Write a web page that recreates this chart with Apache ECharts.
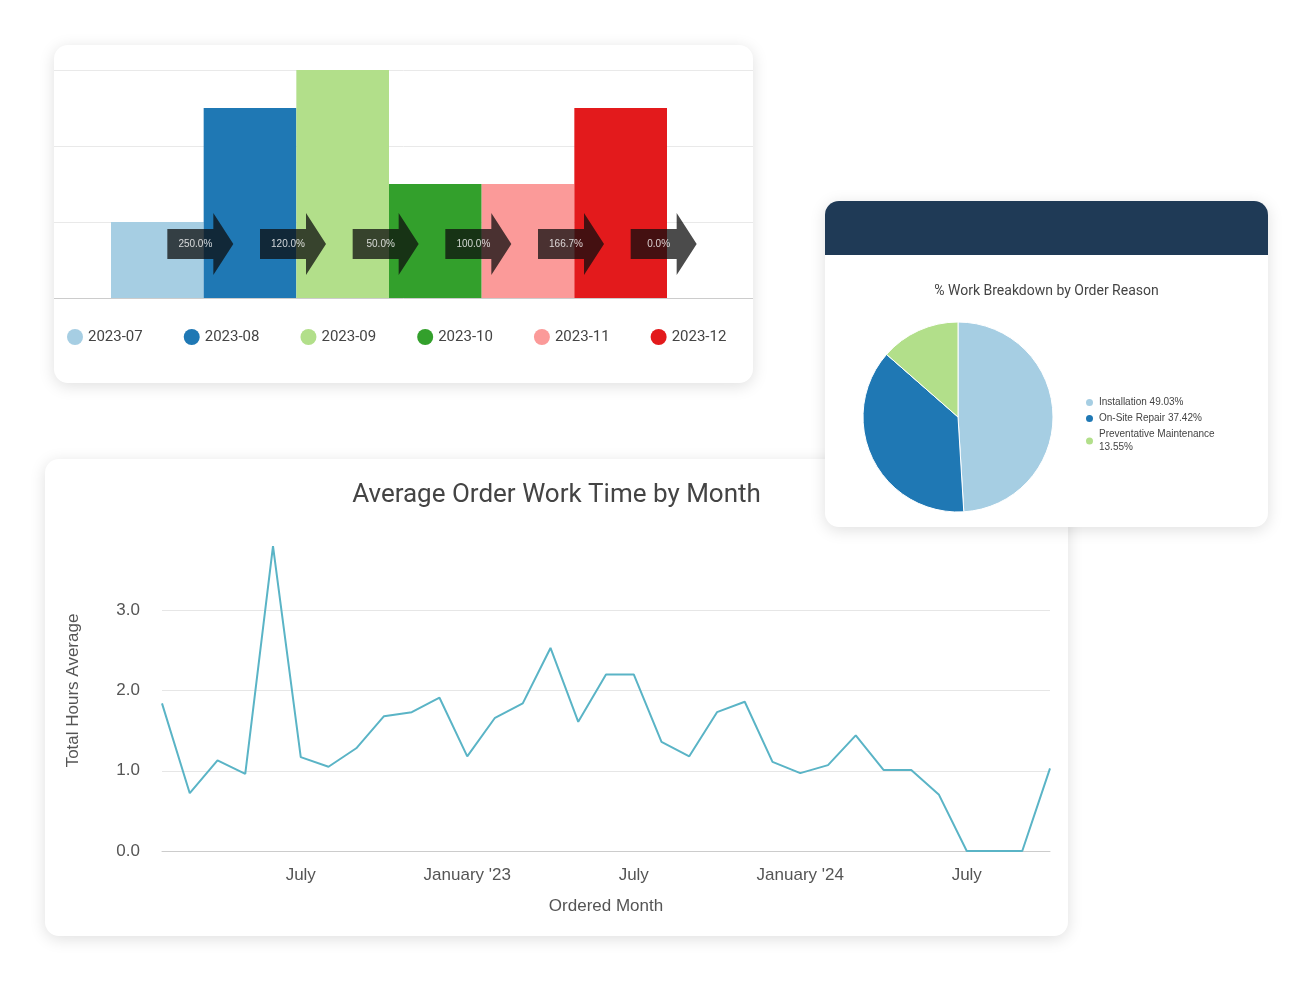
<!DOCTYPE html>
<html><head><meta charset="utf-8">
<script src="https://cdn.jsdelivr.net/npm/echarts@6/dist/echarts.min.js"></script>
<style>
body{margin:0;width:1314px;height:981px;background:#fff;position:relative;overflow:hidden;font-family:Roboto,sans-serif}
.card{position:absolute;background:#fff;border-radius:14px;box-shadow:0 3px 16px rgba(0,0,0,0.13);overflow:hidden}
</style></head><body>
<div class="card" id="c1" style="left:54px;top:45px;width:699px;height:338px;z-index:1"></div>
<div class="card" id="c3" style="left:45px;top:459px;width:1023px;height:477px;z-index:2"></div>
<div class="card" style="left:825px;top:201px;width:443px;height:326px;z-index:3">
  <div style="height:54px;background:#1f3a56"></div>
  <div id="c2" style="width:443px;height:272px"></div>
</div>
<script>
// ---- bar chart data ----
const barCats = ['2023-07','2023-08','2023-09','2023-10','2023-11','2023-12'];
const barVals = [2,5,6,3,3,5];
const barColors = ['#a6cee3','#1f78b4','#b2df8a','#33a02c','#fb9a99','#e31a1c'];
const extraNames = ['2024-05','2024-06'];
const extraColors = ['#f1c40f','#b15928'];
const changeLabels = ['250.0%','120.0%','50.0%','100.0%','166.7%','0.0%'];
// ---- pie data ----
const pieNames = ['Installation','On-Site Repair','Preventative Maintenance'];
const pieVals = [49.03,37.42,13.55];
const pieColors = ['#a6cee3','#1f78b4','#b2df8a'];
// ---- line data ----
const months = ['2022-02','2022-03','2022-04','2022-05','2022-06','2022-07','2022-08','2022-09','2022-10','2022-11','2022-12',
'2023-01','2023-02','2023-03','2023-04','2023-05','2023-06','2023-07','2023-08','2023-09','2023-10','2023-11','2023-12',
'2024-01','2024-02','2024-03','2024-04','2024-05','2024-06','2024-07','2024-08','2024-09','2024-10'];
const hours = [1.84,0.72,1.13,0.96,3.80,1.17,1.05,1.28,1.68,1.73,1.91,1.18,1.66,1.84,2.53,1.61,2.20,2.20,1.36,1.18,1.73,1.86,1.11,0.97,1.07,1.44,1.01,1.01,0.70,0,0,0,1.03];

const c1 = echarts.init(document.getElementById('c1'));
const series1 = barCats.map((n,i)=>({name:n,type:'bar',stack:'all',barWidth:'100%',xAxisIndex:0,yAxisIndex:0,
  itemStyle:{color:barColors[i]},data:barCats.map((c,j)=>j===i?barVals[i]:'-'),z:2}));
extraNames.forEach((n,i)=>series1.push({name:n,type:'bar',stack:'all',barWidth:'100%',xAxisIndex:0,yAxisIndex:0,
  itemStyle:{color:extraColors[i]},data:barCats.map(()=>'-')}));
series1.push({type:'scatter',name:'arrows',xAxisIndex:0,yAxisIndex:0,z:5,
  symbol:'path://M0,16 L46,16 L46,0 L66,31 L46,62 L46,46 L0,46 Z',symbolSize:[66,62],symbolOffset:[43,0],
  itemStyle:{color:'rgba(14,14,14,0.93)'},
  label:{show:true,position:'inside',offset:[-5,0],color:'#fff',fontSize:10,formatter:p=>changeLabels[p.dataIndex]},
  data:barCats.map((c,i)=>[i,1.42])});
c1.setOption({
  animation:false,
  legend:{data:barCats.concat(extraNames),left:8,top:279,width:690,icon:'circle',itemWidth:16,itemHeight:16,itemGap:41,
    textStyle:{fontSize:15,color:'#444',fontFamily:'Roboto'}},
  grid:[{left:57,right:86,top:25,bottom:85},{left:0,right:0,top:25,bottom:85}],
  xAxis:[{type:'category',data:barCats,gridIndex:0,show:false},
    {type:'category',data:['a'],gridIndex:1,axisLine:{lineStyle:{color:'#ccc'}},axisTick:{show:false},axisLabel:{show:false}}],
  yAxis:[{type:'value',gridIndex:0,min:0,max:6,interval:2,show:false,splitLine:{show:false}},
    {type:'value',gridIndex:1,min:0,max:6,interval:2,axisLabel:{show:false},axisLine:{show:false},splitLine:{lineStyle:{color:'#e9e9e9'}}}],
  series:series1
});

const c2 = echarts.init(document.getElementById('c2'));
c2.setOption({
  animation:false,
  title:{text:'% Work Breakdown by Order Reason',left:'center',top:24,textStyle:{fontSize:14,fontWeight:'normal',color:'#444',fontFamily:'Roboto'}},
  legend:{orient:'vertical',left:254,top:136,icon:'circle',itemWidth:9,itemHeight:9,itemGap:3,
    formatter:n=>{const i=pieNames.indexOf(n);return n+' '+pieVals[i].toFixed(2)+'%';},
    textStyle:{fontSize:10,color:'#444',width:130,overflow:'break',lineHeight:13}},
  series:[{type:'pie',center:[133,162],radius:[0,95],startAngle:90,label:{show:false},
    itemStyle:{borderColor:'#fff',borderWidth:1},
    data:pieNames.map((n,i)=>({name:n,value:pieVals[i],itemStyle:{color:pieColors[i]}}))}]
});

const c3 = echarts.init(document.getElementById('c3'));
c3.setOption({
  animation:false,
  title:{text:'Average Order Work Time by Month',left:'center',top:18,textStyle:{fontSize:26,fontWeight:'normal',color:'#444',fontFamily:'Roboto'}},
  grid:{left:117,right:18,top:71,bottom:85},
  xAxis:{type:'category',data:months,boundaryGap:false,name:'Ordered Month',nameLocation:'middle',nameGap:47,
    nameTextStyle:{fontSize:17,color:'#555'},
    axisLine:{lineStyle:{color:'#ccc'}},axisTick:{show:false},
    axisLabel:{fontSize:17,color:'#555',margin:16,interval:(i,v)=>v.endsWith('-07')||v.endsWith('-01'),
      formatter:v=>{const [y,m]=v.split('-');return m==='07'?'July':"January '"+y.slice(2);}}},
  yAxis:{type:'value',min:0,max:4,interval:1,name:'Total Hours Average',nameLocation:'middle',nameGap:80,
    nameTextStyle:{fontSize:17,color:'#555'},
    axisLabel:{fontSize:17,color:'#555',margin:22,showMaxLabel:false,formatter:v=>v.toFixed(1)},
    splitLine:{showMaxLine:false,lineStyle:{color:'#e6e6e6'}}},
  series:[{type:'line',data:hours,symbol:'none',lineStyle:{color:'#5ab4c6',width:2}}]
});
</script></body></html>
